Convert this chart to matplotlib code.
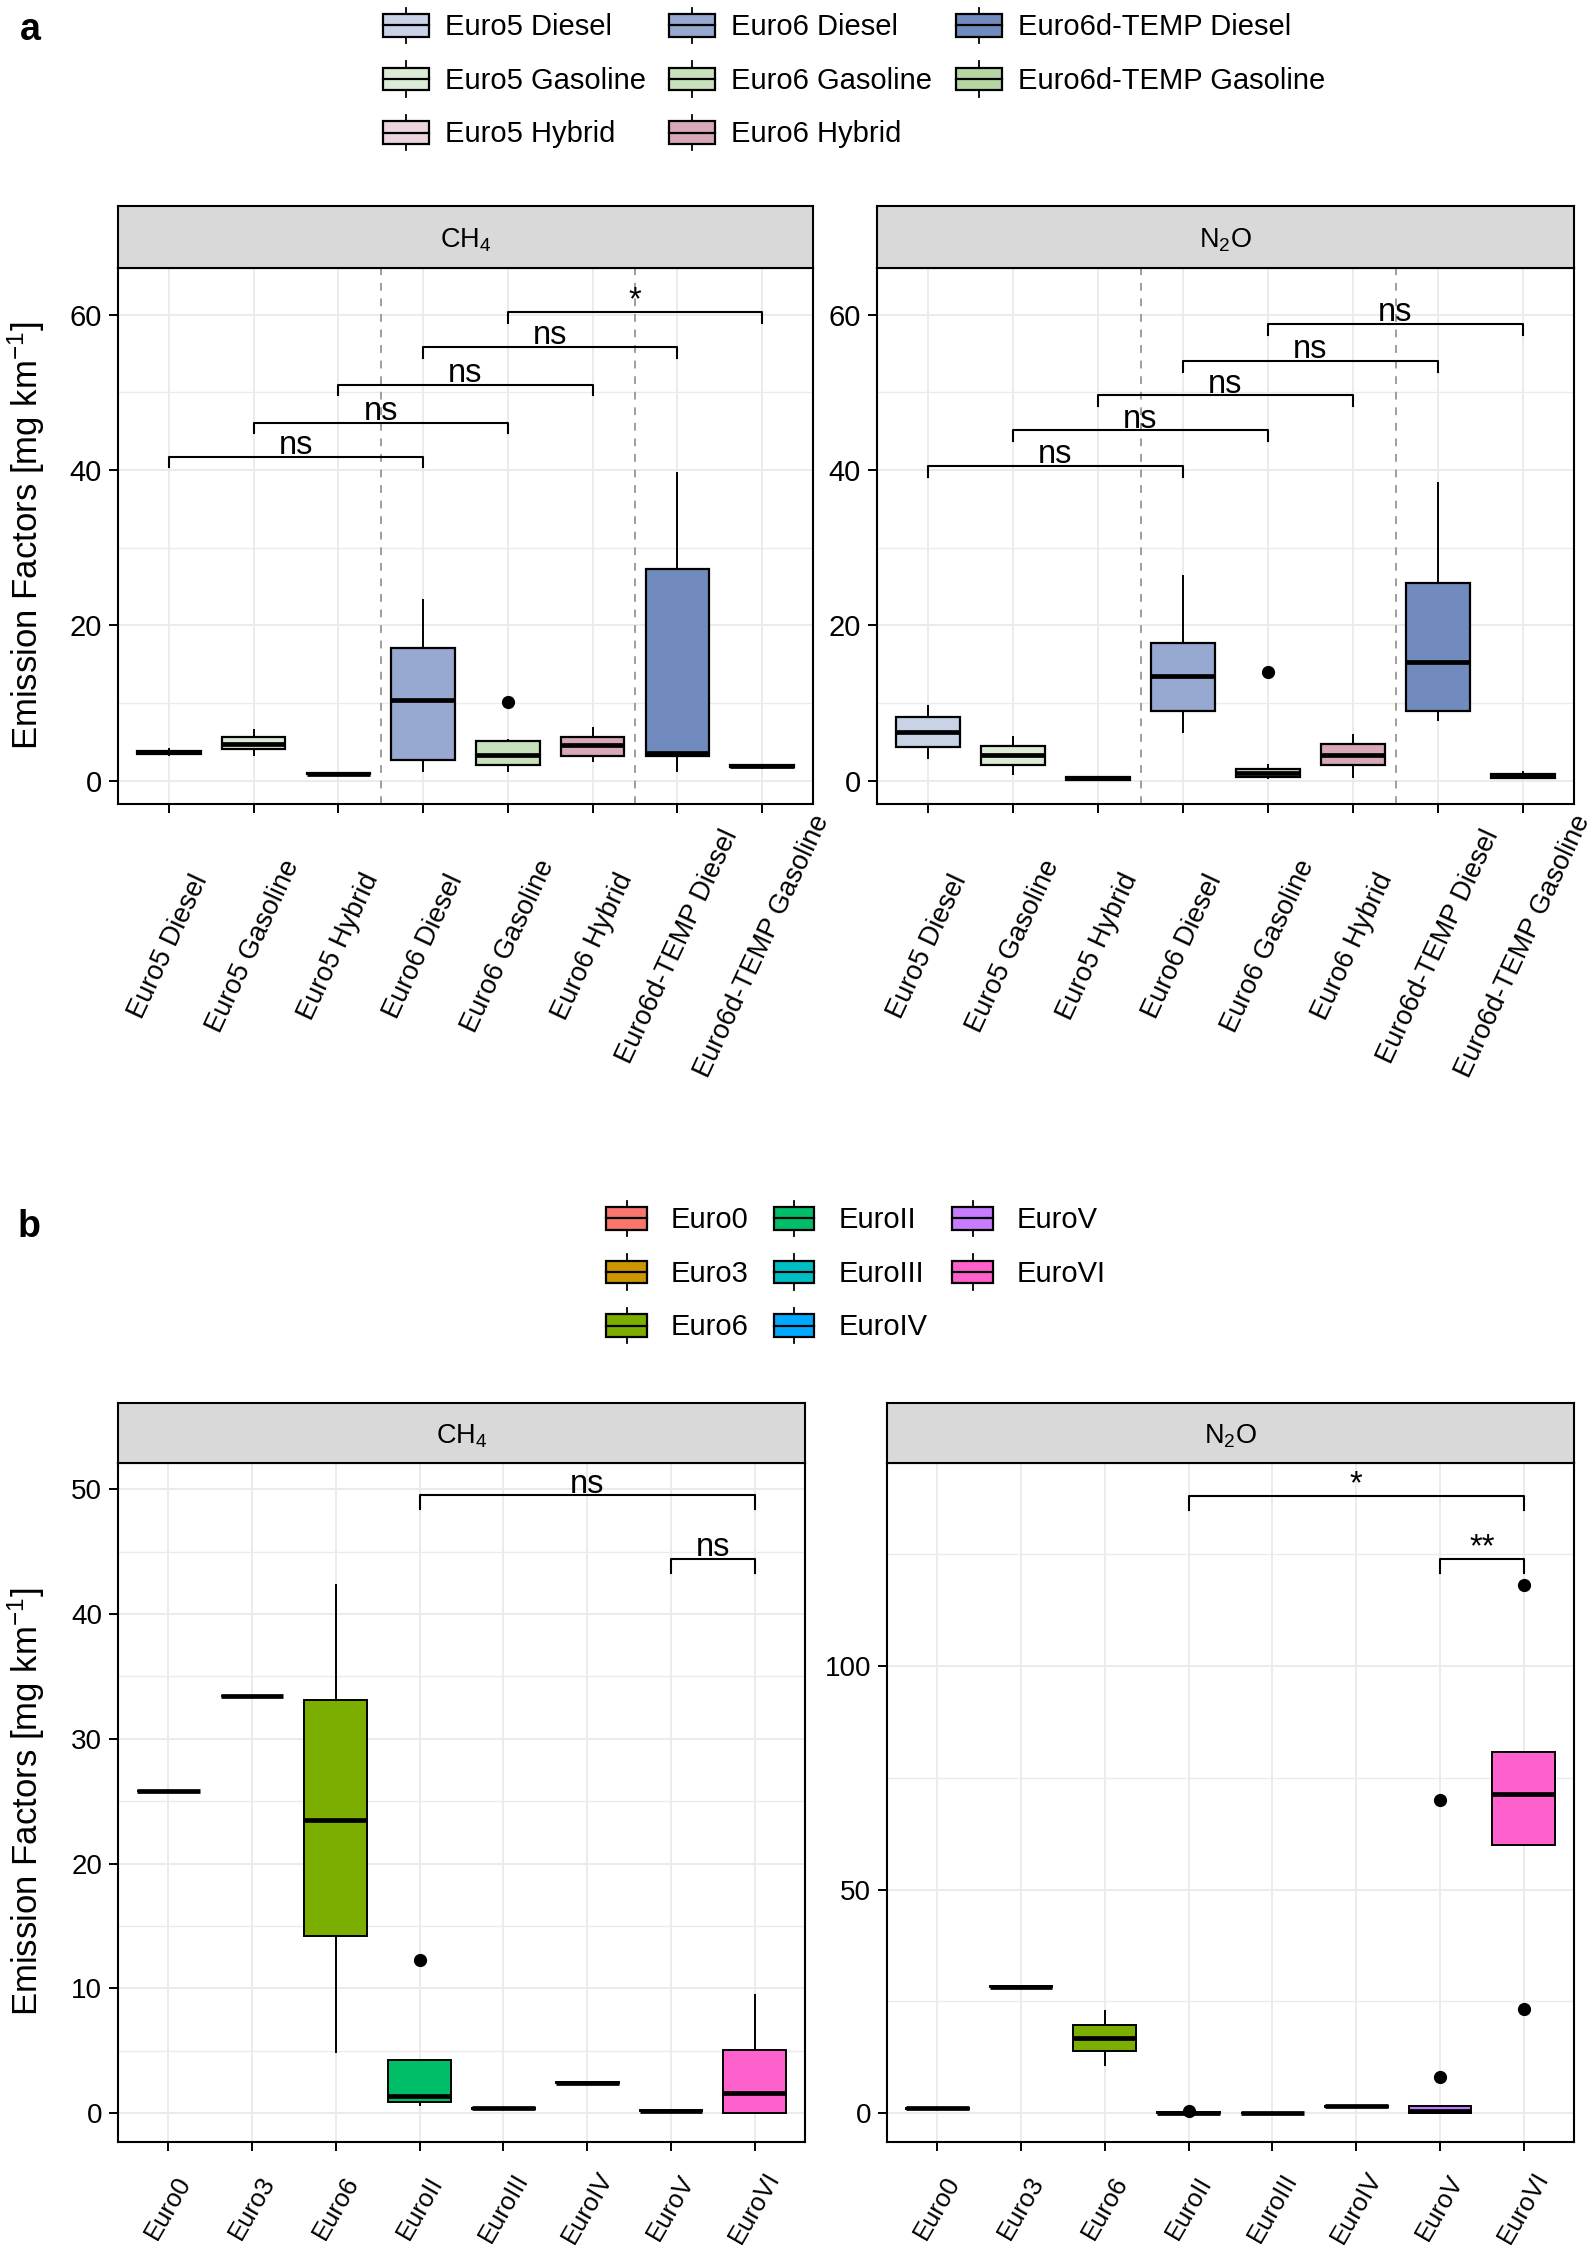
import numpy as np
import matplotlib.pyplot as plt
from matplotlib.legend_handler import HandlerBase
from matplotlib.patches import Rectangle, Patch
from matplotlib.lines import Line2D
from matplotlib.ticker import FixedLocator

plt.rcParams['font.family'] = ['Liberation Sans', 'DejaVu Sans']
plt.rcParams['mathtext.fontset'] = 'custom'
plt.rcParams['mathtext.rm'] = 'Liberation Sans'
plt.rcParams['mathtext.it'] = 'Liberation Sans:italic'
plt.rcParams['mathtext.bf'] = 'Liberation Sans:bold'

W, H = 1594, 2249
DPI = 100

# ---------------- panel a: passenger cars ----------------
a_cats = ["Euro5 Diesel", "Euro5 Gasoline", "Euro5 Hybrid", "Euro6 Diesel",
          "Euro6 Gasoline", "Euro6 Hybrid", "Euro6d-TEMP Diesel", "Euro6d-TEMP Gasoline"]
a_colors = ["#C9D3E8", "#DCEBD5", "#EAD4DD", "#97A9D1",
            "#C8E0BC", "#D8A8B8", "#728BBF", "#B5D6A3"]

# CH4
a_ch4_lo = [3.3, 3.3, 0.8, 1.2, 1.2, 2.5, 1.2, 1.6]
a_ch4_q1 = [3.45, 4.1, 0.85, 2.65, 2.05, 3.15, 3.15, 1.7]
a_ch4_med = [3.65, 4.7, 0.92, 10.4, 3.25, 4.6, 3.55, 1.85]
a_ch4_q3 = [3.85, 5.65, 1.0, 17.1, 5.1, 5.65, 27.3, 2.0]
a_ch4_hi = [4.1, 6.5, 1.0, 23.3, 5.25, 6.8, 39.6, 2.0]
a_ch4_fliers = [[], [], [], [], [10.1], [], [], []]

# N2O
a_n2o_lo = [2.95, 0.8, 0.1, 6.3, 0.3, 0.5, 7.8, 0.35]
a_n2o_q1 = [4.4, 2.05, 0.15, 9.0, 0.5, 2.05, 9.0, 0.4]
a_n2o_med = [6.3, 3.25, 0.3, 13.5, 1.0, 3.25, 15.3, 0.55]
a_n2o_q3 = [8.15, 4.5, 0.45, 17.7, 1.55, 4.75, 25.5, 0.8]
a_n2o_hi = [9.6, 5.65, 0.5, 26.4, 2.05, 5.9, 38.3, 1.15]
a_n2o_fliers = [[], [], [], [], [14.0], [], [], []]

a_pairs = [(1, 4), (2, 5), (3, 6), (4, 7), (5, 8)]
a_ch4_br_y = [41.7, 46.1, 51.0, 55.8, 60.3]
a_ch4_signif = ["ns", "ns", "ns", "ns", "*"]
a_n2o_br_y = [40.5, 45.1, 49.6, 54.0, 58.8]
a_n2o_signif = ["ns", "ns", "ns", "ns", "ns"]
a_yticks = [0, 20, 40, 60]
a_ylim = (-3.0, 66.0)
a_groups = [3.5, 6.5]

# ---------------- panel b: heavy duty ----------------
b_cats = ["Euro0", "Euro3", "Euro6", "EuroII", "EuroIII", "EuroIV", "EuroV", "EuroVI"]
b_colors = ["#F8766D", "#CD9600", "#7CAE00", "#00BE67",
            "#00BFC4", "#00A9FF", "#C77CFF", "#FF61CC"]

b_ch4_lo = [25.8, 33.4, 4.9, 0.7, 0.35, 2.45, 0.15, 0.0]
b_ch4_q1 = [25.8, 33.4, 14.2, 0.9, 0.35, 2.45, 0.15, 0.04]
b_ch4_med = [25.8, 33.4, 23.5, 1.35, 0.4, 2.45, 0.2, 1.65]
b_ch4_q3 = [25.8, 33.4, 33.1, 4.25, 0.45, 2.5, 0.25, 5.05]
b_ch4_hi = [25.8, 33.4, 42.35, 4.25, 0.45, 2.5, 0.25, 9.5]
b_ch4_fliers = [[], [], [], [12.3], [], [], [], []]

b_n2o_lo = [1.0, 28.2, 10.9, 0.0, 0.0, 1.5, 0.0, 59.9]
b_n2o_q1 = [1.0, 28.2, 14.0, 0.0, 0.0, 1.5, 0.0, 59.9]
b_n2o_med = [1.1, 28.3, 16.8, 0.1, 0.05, 1.6, 0.5, 71.4]
b_n2o_q3 = [1.2, 28.4, 19.7, 0.2, 0.1, 1.7, 1.6, 80.7]
b_n2o_hi = [1.2, 28.4, 22.9, 0.2, 0.1, 1.7, 1.6, 80.7]
b_n2o_fliers = [[], [], [], [0.5], [], [], [8.2, 70.1], [23.3, 118.0]]

b_pairs = [(4, 8), (7, 8)]
b_ch4_br_y = [49.5, 44.4]
b_ch4_signif = ["ns", "ns"]
b_n2o_br_y = [137.9, 123.8]
b_n2o_signif = ["*", "**"]
b_ch4_yticks = [0, 10, 20, 30, 40, 50]
b_n2o_yticks = [0, 50, 100]
b_ch4_ylim = (-2.3, 52.1)
b_n2o_ylim = (-6.4, 145.3)

YLABEL = "Emission Factors [mg km$^{-1}$]"


def px_rect(left, top, right, bottom):
    return [left / W, 1 - bottom / H, (right - left) / W, (bottom - top) / H]


def add_strip(fig, left, right, top, bottom, text):
    sax = fig.add_axes(px_rect(left, top, right, bottom))
    sax.set_facecolor('#D9D9D9')
    sax.set_xticks([])
    sax.set_yticks([])
    for sp in sax.spines.values():
        sp.set_linewidth(1.5)
    sax.text(0.5, 0.45, text, ha='center', va='center', fontsize=19.5,
             transform=sax.transAxes)


def draw_panel(ax, cats, colors, lo, q1, med, q3, hi, fliers, ylim, yticks,
               pairs, br_y, signif, rot, xpad, tick_fs, ytick_fs, edge_lw, groups=()):
    pos = np.arange(1, len(cats) + 1)
    stats = [dict(whislo=lo[i], q1=q1[i], med=med[i], q3=q3[i],
                  whishi=hi[i], fliers=fliers[i]) for i in range(len(cats))]
    bp = ax.bxp(stats, positions=pos, widths=0.75, patch_artist=True,
                showcaps=False, manage_ticks=False, zorder=3,
                boxprops=dict(edgecolor='black', linewidth=edge_lw),
                medianprops=dict(color='black', linewidth=3.4, solid_capstyle='butt'),
                whiskerprops=dict(color='black', linewidth=1.4),
                flierprops=dict(marker='o', markerfacecolor='black',
                                markeredgecolor='black', markersize=8.5))
    for box, c in zip(bp['boxes'], colors):
        box.set_facecolor(c)

    for g in groups:
        ax.axvline(g, color='#9E9E9E', ls=(0, (4, 4)), lw=1.4, zorder=2)

    span = ylim[1] - ylim[0]
    tip = 0.02 * span
    for (x1, x2), y, s in zip(pairs, br_y, signif):
        ax.plot([x1, x1, x2, x2], [y - tip, y, y, y - tip], color='black',
                lw=1.5, zorder=4)
        ax.annotate(s, xy=((x1 + x2) / 2, y), xytext=(0, 2),
                    textcoords='offset points', ha='center', va='baseline',
                    fontsize=23.5, zorder=5)

    ax.set_xlim(0.4, len(cats) + 0.6)
    ax.set_ylim(ylim)
    ax.set_yticks(yticks)
    step = yticks[1] - yticks[0]
    ax.yaxis.set_minor_locator(FixedLocator([t + step / 2 for t in yticks[:-1]] +
                                            [yticks[-1] + step / 2]))
    ax.set_xticks(pos)
    ax.set_xticklabels(cats, rotation=rot, ha='center', va='center',
                       rotation_mode='anchor', fontsize=tick_fs)
    ax.tick_params(axis='x', pad=xpad, length=6.5, width=1.4, colors='black')
    ax.tick_params(axis='y', which='major', labelsize=ytick_fs, length=6.5,
                   width=1.4, pad=5)
    ax.tick_params(axis='y', which='minor', length=0)
    ax.grid(True, which='major', color='#EBEBEB', lw=1.4)
    ax.grid(True, which='minor', axis='y', color='#EBEBEB', lw=1.0)
    ax.set_axisbelow(True)
    for sp in ax.spines.values():
        sp.set_linewidth(1.5)


class BoxKeyHandler(HandlerBase):
    def create_artists(self, legend, orig_handle, xdescent, ydescent, width,
                       height, fontsize, trans):
        fc = orig_handle.get_facecolor()
        x0, y0 = -xdescent, -ydescent
        bh = height * 0.64
        yb = y0 + (height - bh) / 2
        xm = x0 + width / 2
        wt = Line2D([xm, xm], [yb + bh, y0 + height], color='black', lw=1.3, transform=trans)
        wb = Line2D([xm, xm], [y0, yb], color='black', lw=1.3, transform=trans)
        rect = Rectangle((x0, yb), width, bh, facecolor=fc, edgecolor='black',
                         lw=1.6, transform=trans)
        mid = Line2D([x0, x0 + width], [yb + bh / 2] * 2, color='black', lw=1.6,
                     transform=trans)
        return [wt, wb, rect, mid]


def add_legend(fig, cats, colors, cx, cy, hlen, tpad, cspace):
    handles = [Patch(facecolor=c) for c in colors]
    fig.legend(handles, cats, loc='center', ncol=3, frameon=False,
               bbox_to_anchor=(cx / W, 1 - cy / H), bbox_transform=fig.transFigure,
               handler_map={Patch: BoxKeyHandler()}, fontsize=21,
               handlelength=hlen, handleheight=1.5, handletextpad=tpad,
               columnspacing=cspace, labelspacing=0.62, borderpad=0)


fig = plt.figure(figsize=(W / DPI, H / DPI), dpi=DPI)

# panel a
ax_a1 = fig.add_axes(px_rect(118, 268, 813, 804))
draw_panel(ax_a1, a_cats, a_colors, a_ch4_lo, a_ch4_q1, a_ch4_med, a_ch4_q3,
           a_ch4_hi, a_ch4_fliers, a_ylim, a_yticks, a_pairs, a_ch4_br_y,
           a_ch4_signif, 65, 96, 19.5, 21, 1.6, a_groups)
add_strip(fig, 118, 813, 206, 268, "CH$_4$")

ax_a2 = fig.add_axes(px_rect(877, 268, 1574, 804))
draw_panel(ax_a2, a_cats, a_colors, a_n2o_lo, a_n2o_q1, a_n2o_med, a_n2o_q3,
           a_n2o_hi, a_n2o_fliers, a_ylim, a_yticks, a_pairs, a_n2o_br_y,
           a_n2o_signif, 65, 96, 19.5, 21, 1.6, a_groups)
add_strip(fig, 877, 1574, 206, 268, "N$_2$O")

# panel b
ax_b1 = fig.add_axes(px_rect(118, 1463, 805, 2142))
draw_panel(ax_b1, b_cats, b_colors, b_ch4_lo, b_ch4_q1, b_ch4_med, b_ch4_q3,
           b_ch4_hi, b_ch4_fliers, b_ch4_ylim, b_ch4_yticks, b_pairs, b_ch4_br_y,
           b_ch4_signif, 60, 41, 18.5, 20, 1.4)
add_strip(fig, 118, 805, 1403, 1463, "CH$_4$")

ax_b2 = fig.add_axes(px_rect(887, 1463, 1574, 2142))
draw_panel(ax_b2, b_cats, b_colors, b_n2o_lo, b_n2o_q1, b_n2o_med, b_n2o_q3,
           b_n2o_hi, b_n2o_fliers, b_n2o_ylim, b_n2o_yticks, b_pairs, b_n2o_br_y,
           b_n2o_signif, 60, 41, 18.5, 20, 1.4)
add_strip(fig, 887, 1574, 1403, 1463, "N$_2$O")

# y labels
fig.text(26 / W, 1 - 536 / H, YLABEL, rotation=90, ha='center', va='center', fontsize=25)
fig.text(26 / W, 1 - 1802 / H, YLABEL, rotation=90, ha='center', va='center', fontsize=25)

# panel letters
fig.text(30 / W, 1 - 30 / H, "a", ha='center', va='center', fontsize=27, fontweight='bold')
fig.text(29 / W, 1 - 1227 / H, "b", ha='center', va='center', fontsize=27, fontweight='bold')

# legends
add_legend(fig, a_cats, a_colors, 854, 79, 1.58, 0.55, 0.8)
add_legend(fig, b_cats, b_colors, 856, 1272, 1.4, 0.82, 0.85)

fig.savefig("out.png", dpi=DPI)
